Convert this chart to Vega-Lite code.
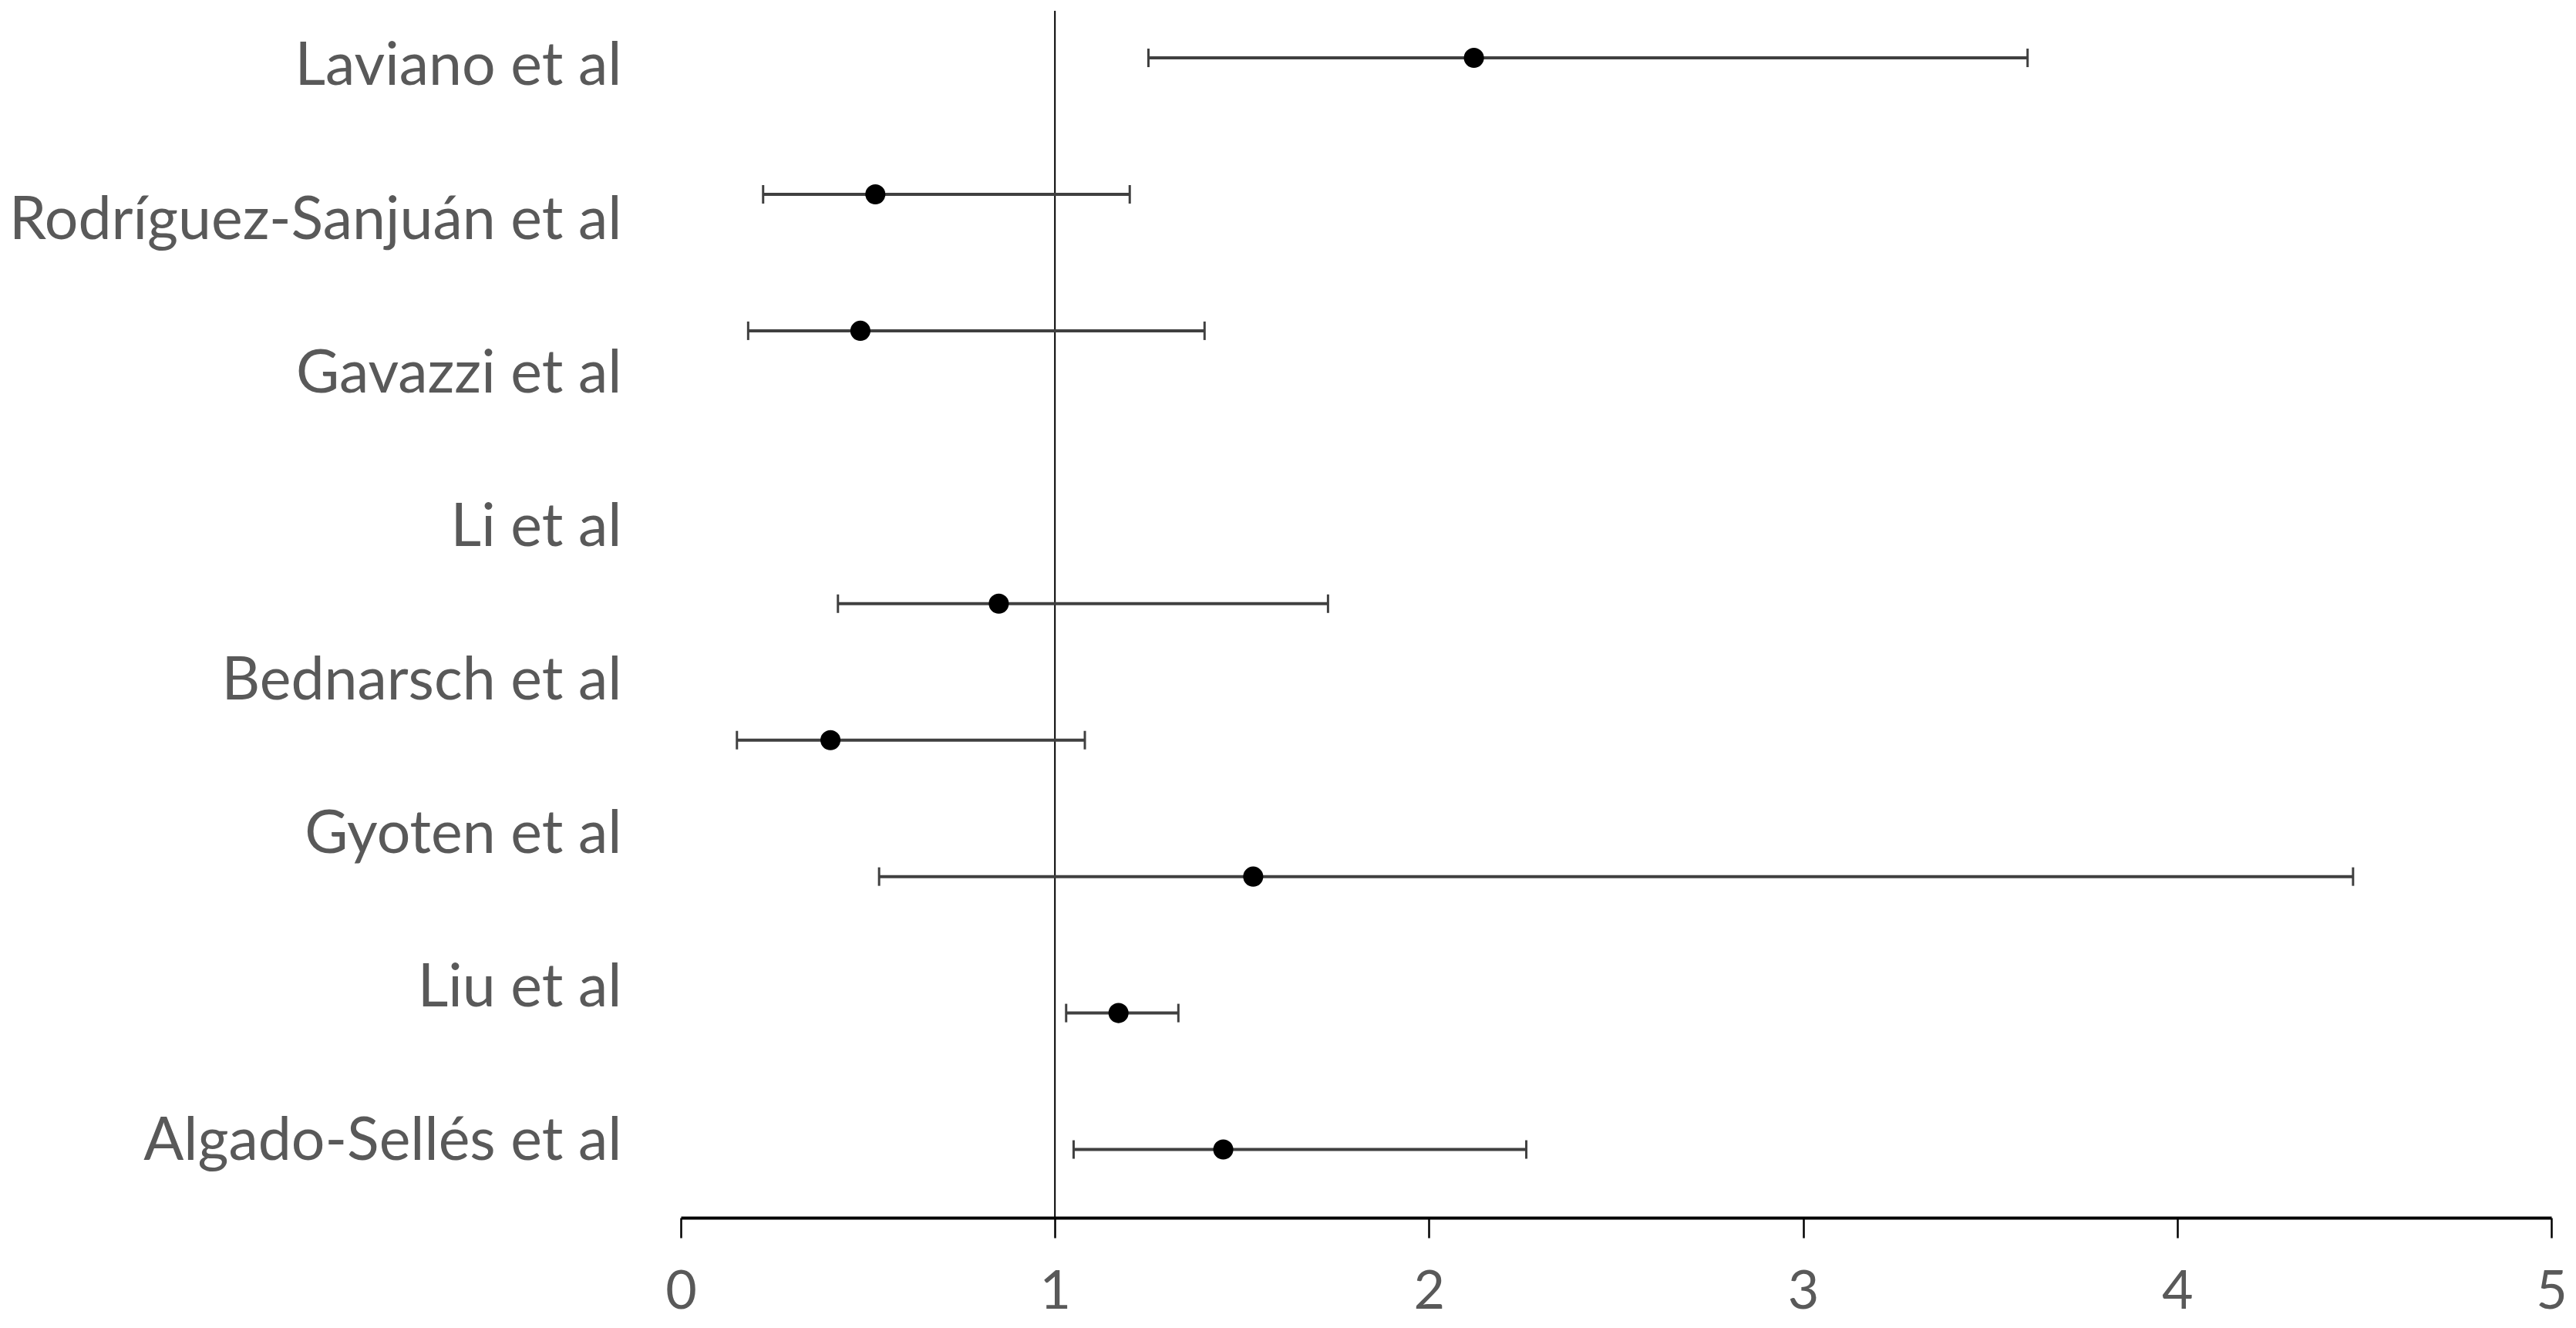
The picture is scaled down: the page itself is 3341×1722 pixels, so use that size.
{
  "$schema": "https://vega.github.io/schema/vega-lite/v6.json",
  "autosize": {"type": "none"},
  "padding": {"left": 883, "top": 14, "right": 32, "bottom": 143},
  "width": 2426,
  "height": 1565,
  "background": "white",
  "config": {"view": {"stroke": null}},
  "datasets": {
    "studies": [
      {"study": "Laviano et al"},
      {"study": "Rodríguez-Sanjuán et al"},
      {"study": "Gavazzi et al"},
      {"study": "Li et al"},
      {"study": "Bednarsch et al"},
      {"study": "Gyoten et al"},
      {"study": "Liu et al"},
      {"study": "Algado-Sellés et al"}
    ],
    "estimates": [
      {"slot": 1, "est": 2.12, "lo": 1.25, "hi": 3.60},
      {"slot": 2, "est": 0.52, "lo": 0.22, "hi": 1.20},
      {"slot": 3, "est": 0.48, "lo": 0.18, "hi": 1.40},
      {"slot": 5, "est": 0.85, "lo": 0.42, "hi": 1.73},
      {"slot": 6, "est": 0.40, "lo": 0.15, "hi": 1.08},
      {"slot": 7, "est": 1.53, "lo": 0.53, "hi": 4.47},
      {"slot": 8, "est": 1.17, "lo": 1.03, "hi": 1.33},
      {"slot": 9, "est": 1.45, "lo": 1.05, "hi": 2.26}
    ],
    "reference": [{"ref": 1}]
  },
  "layer": [
    {
      "data": {"name": "reference"},
      "mark": {"type": "rule", "color": "black", "strokeWidth": 2},
      "encoding": {
        "x": {
          "field": "ref", "type": "quantitative",
          "scale": {"domain": [0, 5], "nice": false, "zero": false},
          "axis": {
            "orient": "bottom", "values": [0, 1, 2, 3, 4, 5], "format": "d",
            "title": null, "grid": false,
            "labelFont": "Lato", "labelFontSize": 70, "labelColor": "#595959",
            "labelPadding": 36, "labelFlush": false,
            "domainColor": "black", "domainWidth": 4,
            "tickColor": "black", "tickWidth": 2.5, "tickSize": 26
          }
        }
      }
    },
    {
      "data": {"name": "estimates"},
      "encoding": {
        "y": {
          "field": "slot", "type": "quantitative",
          "scale": {"domain": [0.655, 9.5], "reverse": true, "nice": false, "zero": false},
          "axis": null
        }
      },
      "layer": [
        {
          "mark": {"type": "rule", "color": "#404040", "strokeWidth": 4},
          "encoding": {
            "x": {"field": "lo", "type": "quantitative"},
            "x2": {"field": "hi"}
          }
        },
        {
          "mark": {"type": "tick", "orient": "vertical", "color": "#404040", "size": 24, "thickness": 3, "opacity": 1},
          "encoding": {"x": {"field": "lo", "type": "quantitative"}}
        },
        {
          "mark": {"type": "tick", "orient": "vertical", "color": "#404040", "size": 24, "thickness": 3, "opacity": 1},
          "encoding": {"x": {"field": "hi", "type": "quantitative"}}
        },
        {
          "mark": {"type": "point", "shape": "circle", "filled": true, "color": "black", "size": 680, "opacity": 1},
          "encoding": {"x": {"field": "est", "type": "quantitative"}}
        }
      ]
    },
    {
      "data": {"name": "studies"},
      "mark": {"type": "point", "opacity": 0},
      "encoding": {
        "y": {
          "field": "study", "type": "nominal", "sort": null,
          "scale": {"type": "point", "padding": 0.43, "align": 0.426},
          "axis": {
            "orient": "left", "title": null, "domain": false, "ticks": false, "tickSize": 0,
            "grid": false, "labelPadding": 77, "labelLimit": 3000,
            "labelFont": "Lato", "labelFontSize": 77, "labelColor": "#595959",
            "labelBaseline": "middle", "labelAlign": "right"
          }
        }
      }
    }
  ],
  "resolve": {"scale": {"y": "independent"}, "axis": {"y": "independent"}}
}
